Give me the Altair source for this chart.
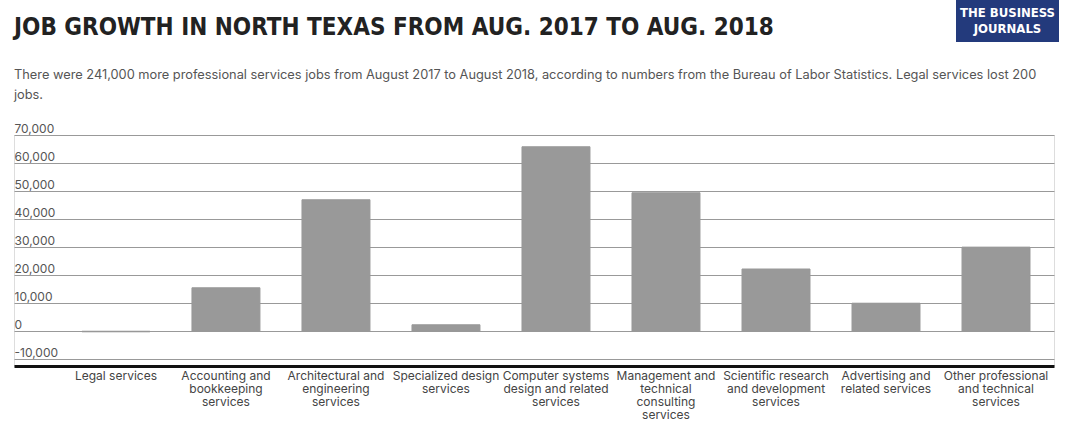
import altair as alt
import pandas as pd

categories = [
    "Legal services",
    "Accounting and bookkeeping services",
    "Architectural and engineering services",
    "Specialized design services",
    "Computer systems design and related services",
    "Management and technical consulting services",
    "Scientific research and development services",
    "Advertising and related services",
    "Other professional and technical services",
]
label_lines = [
    "Legal services",
    "Accounting and\nbookkeeping\nservices",
    "Architectural and\nengineering\nservices",
    "Specialized design\nservices",
    "Computer systems\ndesign and related\nservices",
    "Management and\ntechnical\nconsulting\nservices",
    "Scientific research\nand development\nservices",
    "Advertising and\nrelated services",
    "Other professional\nand technical\nservices",
]
job_change = [-200, 15500, 46900, 2300, 65800, 49400, 22200, 10000, 30000]
y_ticks = [-10000, 0, 10000, 20000, 30000, 40000, 50000, 60000, 70000]

title_text = "JOB GROWTH IN NORTH TEXAS FROM AUG. 2017 TO AUG. 2018"
subtitle_lines = [
    "There were 241,000 more professional services jobs from August 2017 to August 2018, according to numbers from the Bureau of Labor Statistics. Legal services lost 200",
    "jobs.",
]
logo_lines = ["THE BUSINESS", "JOURNALS"]

df = pd.DataFrame({"category": categories, "label": label_lines, "jobs": job_change})
one_row = pd.DataFrame({"t": [0]})

FONT = "Inter"
COND = "DejaVu Sans Condensed, Roboto Condensed, Liberation Sans Narrow, Arial Narrow, Roboto, sans-serif"

bars = alt.Chart(df).mark_bar(color="#999999", stroke="#999999", strokeWidth=1).encode(
    x=alt.X(
        "label:N",
        sort=label_lines,
        title=None,
        scale=alt.Scale(paddingInner=0.382, paddingOuter=0.418, align=0.739),
        axis=alt.Axis(
            labelAngle=0,
            ticks=False,
            domainColor="#111111",
            domainWidth=3,
            labelFont=FONT,
            labelFontSize=12,
            labelColor="#444444",
            labelLineHeight=13,
            labelPadding=4,
            labelLimit=0,
            labelExpr="split(datum.label, '\\n')",
        ),
    ),
    y=alt.Y(
        "jobs:Q",
        title=None,
        scale=alt.Scale(domain=[-12400, 70000], nice=False, zero=False),
        axis=alt.Axis(
            values=y_ticks,
            format=",.0f",
            labelExpr="replace(datum.label, '\u2212', '-')",
            domain=False,
            ticks=False,
            grid=True,
            gridColor="#999999",
            gridWidth=1,
            labelAlign="left",
            labelBaseline="alphabetic",
            labelPadding=0,
            labelOffset=-3,
            labelFont=FONT,
            labelFontSize=12,
            labelColor="#555555",
        ),
    ),
    tooltip=["category:N", "jobs:Q"],
)

logo_box = alt.Chart(one_row).mark_rect(color="#233a7c").encode(
    x=alt.value(942), x2=alt.value(1045), y=alt.value(-135), y2=alt.value(-93)
)
logo_text = alt.Chart(one_row).mark_text(
    font=COND,
    fontWeight="bold",
    fontSize=13,
    color="white",
    align="center",
    baseline="middle",
    lineHeight=16,
).encode(x=alt.value(993.5), y=alt.value(-122), text=alt.value(logo_lines))

title_mark = alt.Chart(one_row).mark_text(
    font=COND,
    fontWeight="bold",
    fontSize=24,
    color="#222222",
    align="left",
    baseline="alphabetic",
).encode(x=alt.value(0), y=alt.value(-100), text=alt.value(title_text))

subtitle_mark = alt.Chart(one_row).mark_text(
    font=FONT,
    fontSize=12.8,
    color="#555555",
    align="left",
    baseline="alphabetic",
    lineHeight=20,
).encode(x=alt.value(0), y=alt.value(-56), text=alt.value(subtitle_lines))

chart = (
    alt.layer(bars, logo_box, logo_text, title_mark, subtitle_mark)
    .properties(
        width=1040,
        height=231,
        padding={"left": 14, "top": 0, "right": 4, "bottom": 4},
    )
    .configure_view(stroke=None)
    .configure(background="white")
)

chart.save("out.html", embed_options={"renderer": "svg", "actions": False})
